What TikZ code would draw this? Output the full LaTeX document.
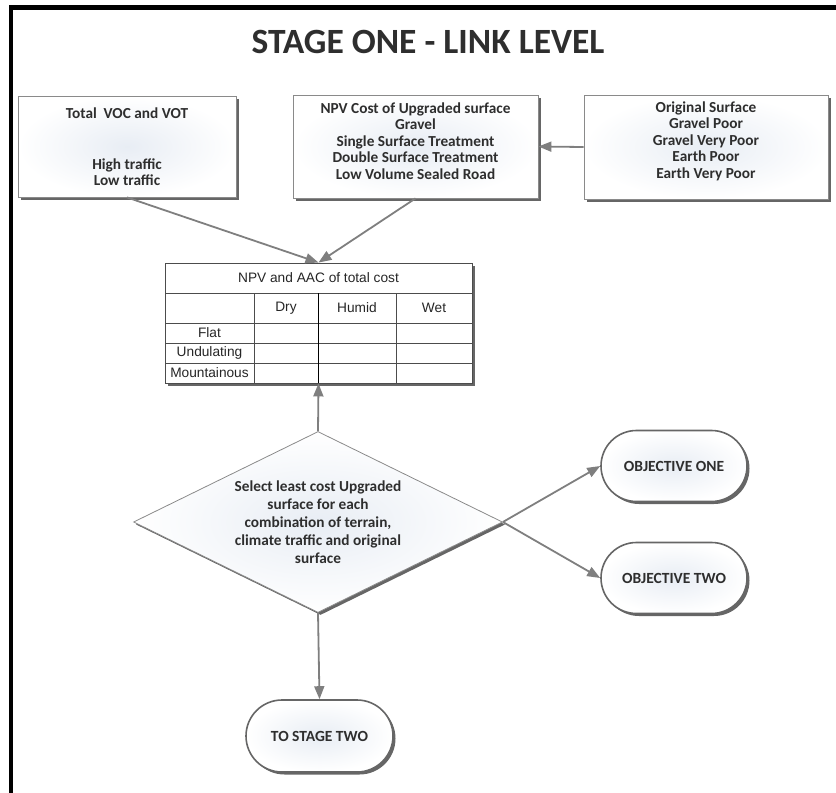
\documentclass[tikz,border=0pt]{standalone}
\usepackage{fontspec}
\setmainfont{Carlito}
\newfontfamily\arialf{Liberation Sans}
\usetikzlibrary{shapes.geometric,shapes.misc,shadows,arrows.meta}
\definecolor{txt}{HTML}{2E2E2E}
\definecolor{edge}{HTML}{8A8A8A}
\definecolor{glow}{RGB}{232,237,244}
\definecolor{arr}{HTML}{7F7F7F}
\tikzset{
  shadowed/.style={drop shadow={shadow xshift=2.5pt,shadow yshift=-2.5pt,opacity=0.75,fill=black!80}},
  infobox/.style={rectangle,draw=edge,line width=0.8pt,inner color=glow,outer color=white,shadowed,inner sep=0pt},
  pill/.style={rounded rectangle,draw=black!60,line width=1.6pt,inner color=glow,outer color=white,shadowed,minimum width=146pt,minimum height=71pt,inner sep=0pt,
     font=\fontsize{15.5}{18}\selectfont\bfseries,text=txt},
  lbl/.style={font=\fontsize{15.3}{16.5}\selectfont\bfseries,text=txt,align=center,inner sep=0pt},
  cell/.style={font=\arialf\fontsize{13.7}{15}\selectfont,text=black!85,inner sep=0pt},
  flow/.style={draw=arr,line width=1.8pt,-{Triangle[length=13pt,width=10pt]}},
  frame/.style={line width=4.5pt,black},
  grid/.style={line width=0.9pt,black!70}
}
\begin{document}
\begin{tikzpicture}[x=1pt,y=-1pt]
\useasboundingbox (0,0) rectangle (836,793);
% frame
\draw[frame] (11,793) -- (11,7.5) -- (836,7.5);
% title
\node[font=\fontsize{35.5}{40}\selectfont\bfseries,text=txt,inner sep=0pt] (title) at (428,42) {STAGE ONE - LINK LEVEL};

% top boxes
\node[infobox,minimum width=218pt,minimum height=101pt] (voc) at (127,146.5) {};
\node[lbl] (voct) at (127,113) {Total\ \ VOC and VOT};
\node[lbl,font=\fontsize{15.3}{15.5}\selectfont\bfseries] (voct2) at (127,172) {High traffic\\Low traffic};

\node[infobox,minimum width=245pt,minimum height=103pt] (npv) at (415.5,146.5) {};
\node[lbl] (npvt) at (415.5,141) {NPV Cost of Upgraded surface\\Gravel\\Single Surface Treatment\\Double Surface Treatment\\Low Volume Sealed Road};

\node[infobox,minimum width=244pt,minimum height=104pt] (orig) at (706,147) {};
\node[lbl] (origt) at (706,141) {Original Surface\\Gravel Poor\\Gravel Very Poor\\Earth Poor\\Earth Very Poor};

% table
\node[rectangle,draw=black!70,line width=0.9pt,fill=white,shadowed,minimum width=307pt,minimum height=120pt,inner sep=0pt] (tbl) at (318.5,323) {};
\draw[grid] (165,293) -- (472,293);
\draw[grid] (165,323) -- (472,323);
\draw[grid] (165,343) -- (472,343);
\draw[grid] (165,363) -- (472,363);
\draw[grid] (254,293) -- (254,383);
\draw[grid,black] (318,293) -- (318,383);
\draw[grid] (396,293) -- (396,383);
\node[cell] (th) at (318.5,278) {NPV and AAC of total cost};
\node[cell] (cdry) at (286,308) {Dry};
\node[cell] (chum) at (357,308) {Humid};
\node[cell] (cwet) at (434,308) {Wet};
\node[cell] (rflat) at (209.5,333) {Flat};
\node[cell] (rund) at (209.5,353) {Undulating};
\node[cell] (rmnt) at (209.5,373) {Mountainous};

% decision
\node[diamond,draw=edge,line width=0.8pt,inner color=glow,outer color=white,shadowed,minimum width=369pt,minimum height=181pt,inner sep=0pt] (dec) at (318,522) {};
\node[lbl,font=\fontsize{15.3}{18}\selectfont\bfseries] (dect) at (318,522) {Select least cost Upgraded\\surface for each\\combination of terrain,\\climate traffic and original\\surface};

% terminals
\node[pill] (obj1) at (674,466) {OBJECTIVE ONE};
\node[pill] (obj2) at (674,578) {OBJECTIVE TWO};
\node[pill,minimum width=147pt,minimum height=72pt] (st2) at (319.5,736) {TO STAGE TWO};

% connectors
\draw[flow] (orig.west) -- (npv.east);
\draw[flow] (voc.south) -- (tbl.north);
\draw[flow] (npv.south) -- (tbl.north);
\draw[flow] (dec.north) -- (tbl.south);
\draw[flow] (dec.east) -- (obj1.west);
\draw[flow] (dec.east) -- (obj2.west);
\draw[flow] (dec.south) -- (st2.north);
\end{tikzpicture}
\end{document}
